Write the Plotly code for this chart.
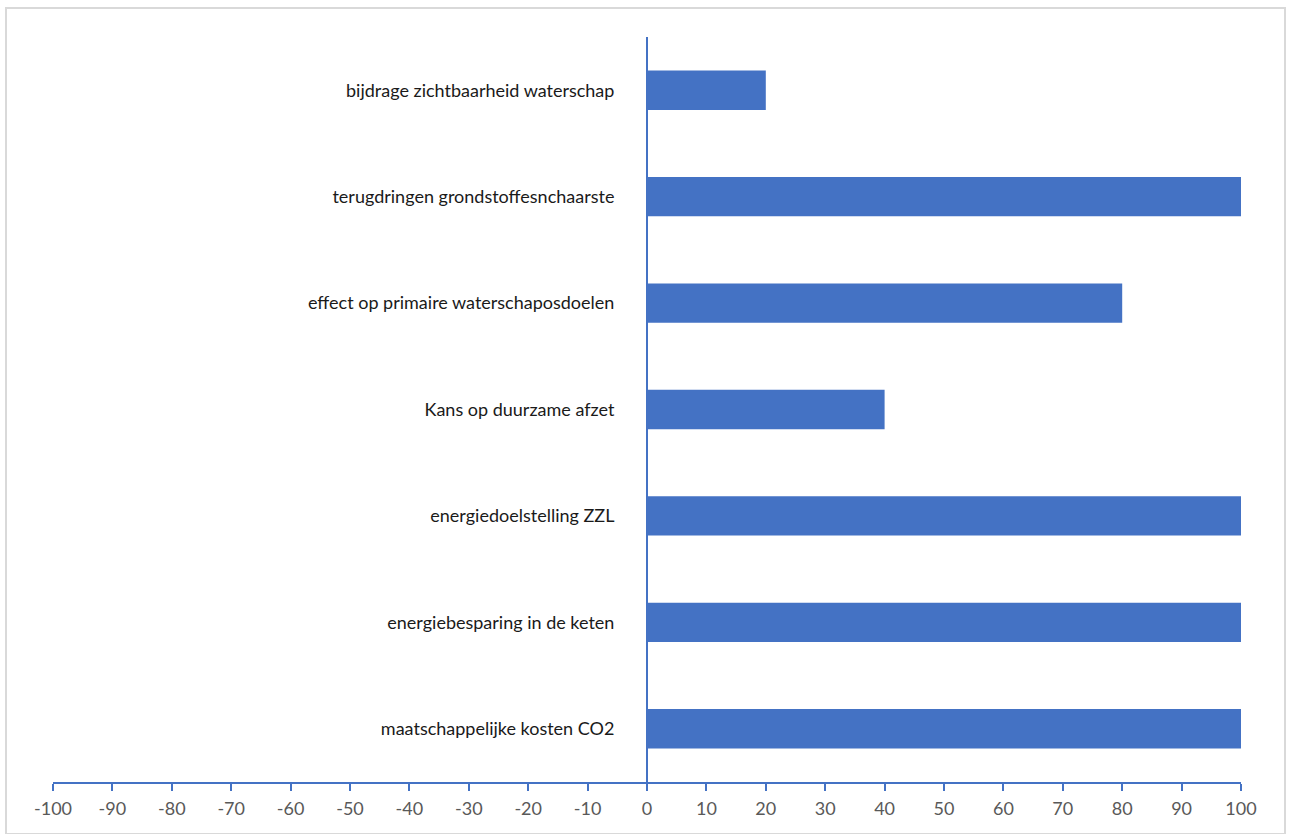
import plotly.graph_objects as go

categories = [
    "bijdrage zichtbaarheid waterschap",
    "terugdringen grondstoffesnchaarste",
    "effect op primaire waterschaposdoelen",
    "Kans op duurzame afzet",
    "energiedoelstelling ZZL",
    "energiebesparing in de keten",
    "maatschappelijke kosten CO2",
]
values = [20, 100, 80, 40, 100, 100, 100]
tick_vals = list(range(-100, 101, 10))
tick_text = ["-100", "-90", "-80", "-70", "-60", "-50", "-40", "-30", "-20", "-10",
             "0", "10", "20", "30", "40", "50", "60", "70", "80", "90", "100"]

W, H = 1290, 834
L, R, T, B = 53, 49, 37, 52
pw, ph = W - L - R, H - T - B
BLUE = "#4472C4"

fig = go.Figure(go.Bar(
    x=values, y=categories, orientation="h",
    marker=dict(color=BLUE, line=dict(width=0)),
    hoverinfo="x+y",
))

def px_x(p):
    return (p - L) / pw

def px_y(p):
    return 1 - (p - T) / ph

fig.update_layout(
    width=W, height=H,
    margin=dict(l=L, r=R, t=T, b=B),
    paper_bgcolor="white", plot_bgcolor="white",
    bargap=0.63,
    showlegend=False,
    font=dict(family="Lato, Open Sans, sans-serif"),
    xaxis=dict(
        range=[-100, 100], tickvals=tick_vals, ticktext=tick_text,
        showgrid=False, zeroline=False,
        showline=True, linecolor=BLUE, linewidth=2,
        ticks="outside", ticklen=7, tickwidth=2, tickcolor=BLUE,
        tickfont=dict(size=18, color="#595959"),
        ticklabelstandoff=2,
    ),
    yaxis=dict(
        categoryorder="array", categoryarray=categories,
        autorange="reversed",
        anchor="free", position=0.5,
        showgrid=False, zeroline=False,
        showline=True, linecolor=BLUE, linewidth=2,
        ticks="", ticklabelstandoff=28,
        tickfont=dict(size=18, color="#1a1a1a"),
    ),
    shapes=[dict(
        type="rect", xref="paper", yref="paper",
        x0=px_x(6), x1=px_x(1285), y0=px_y(834), y1=px_y(8),
        line=dict(color="#D9D9D9", width=2), layer="below",
    )],
)

fig.write_html("out.html")
